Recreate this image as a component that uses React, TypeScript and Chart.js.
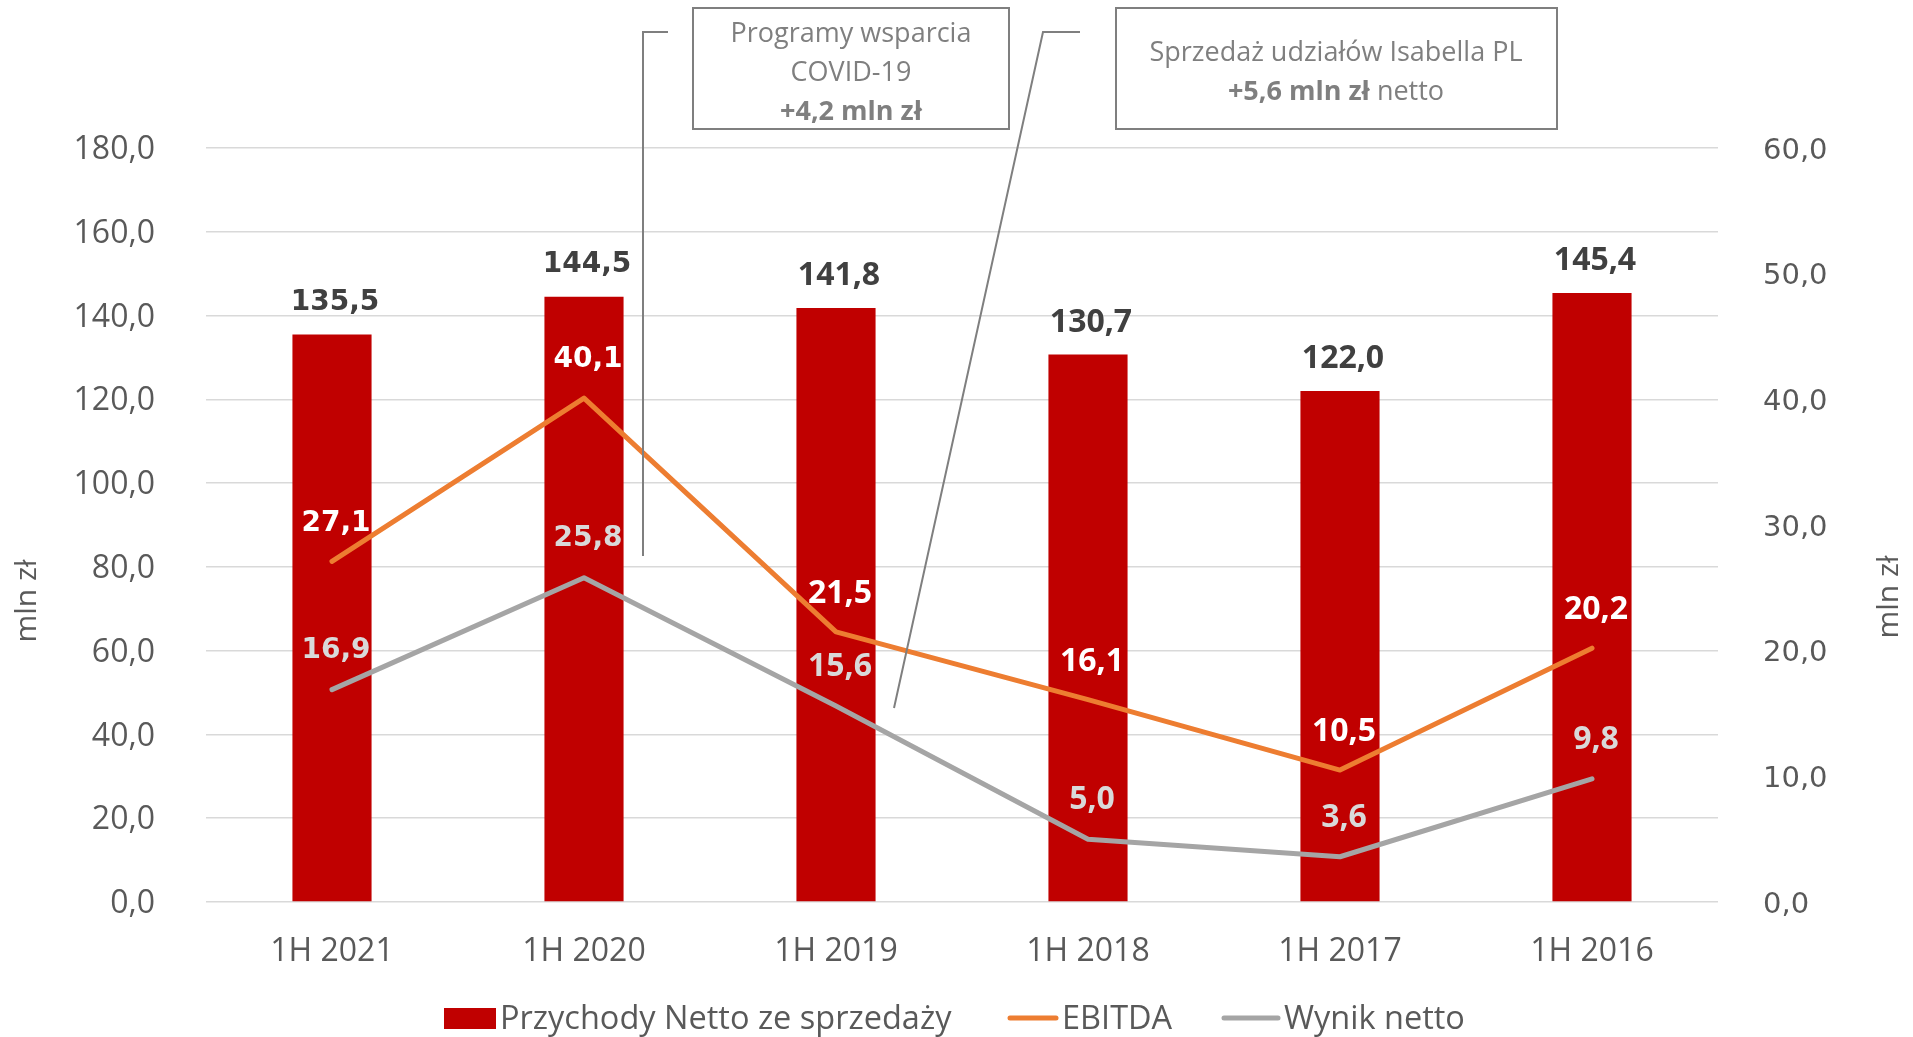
import React, { useEffect, useRef } from "react";
import { Chart, registerables } from "chart.js";

Chart.register(...registerables);

const categories = ["1H 2021", "1H 2020", "1H 2019", "1H 2018", "1H 2017", "1H 2016"];
const revenue = [135.5, 144.5, 141.8, 130.7, 122.0, 145.4];
const ebitda = [27.1, 40.1, 21.5, 16.1, 10.5, 20.2];
const netResult = [16.9, 25.8, 15.6, 5.0, 3.6, 9.8];
const leftAxisMax = 180;
const leftAxisStep = 20;
const rightAxisMax = 60;
const rightAxisStep = 10;
const seriesNames = ["Przychody Netto ze sprzedaży", "EBITDA", "Wynik netto"];
const axisTitle = "mln zł";

const RED = "#C00000";
const ORANGE = "#ED7D31";
const GRAY = "#A5A5A5";
const TEXT = "#595959";
const CALLOUT = "#7F7F7F";

const fmt = (v: number) => v.toFixed(1).replace(".", ",");

const labelFont = (i: number) =>
  i < 2 ? "bold 28px 'DejaVu Sans'" : "bold 32px 'Open Sans'";

const overlayPlugin = {
  id: "overlay",
  afterDatasetsDraw(chart: any) {
    const ctx = chart.ctx;
    ctx.save();
    ctx.textAlign = "center";
    ctx.textBaseline = "middle";
    const barMeta = chart.getDatasetMeta(0);
    barMeta.data.forEach((el: any, i: number) => {
      ctx.font = labelFont(i);
      ctx.fillStyle = "#404040";
      ctx.fillText(fmt(revenue[i]), el.x + 3, el.y - 32);
    });
    const ebMeta = chart.getDatasetMeta(1);
    ebMeta.data.forEach((el: any, i: number) => {
      ctx.font = labelFont(i);
      ctx.fillStyle = "#FFFFFF";
      ctx.fillText(fmt(ebitda[i]), el.x + 4, el.y - 38);
    });
    const nMeta = chart.getDatasetMeta(2);
    nMeta.data.forEach((el: any, i: number) => {
      ctx.font = labelFont(i);
      ctx.fillStyle = "#D9D9D9";
      ctx.fillText(fmt(netResult[i]), el.x + 4, el.y - 39);
    });
    ctx.restore();
  },
  afterDraw(chart: any) {
    const ctx = chart.ctx;
    ctx.save();
    ctx.fillStyle = TEXT;
    ctx.font = "30px 'Open Sans'";
    ctx.textAlign = "center";
    ctx.textBaseline = "middle";
    ctx.save();
    ctx.translate(27, 601);
    ctx.rotate(-Math.PI / 2);
    ctx.fillText(axisTitle, 0, 0);
    ctx.restore();
    ctx.save();
    ctx.translate(1889, 597);
    ctx.rotate(-Math.PI / 2);
    ctx.fillText(axisTitle, 0, 0);
    ctx.restore();

    ctx.strokeStyle = CALLOUT;
    ctx.lineWidth = 2;
    ctx.strokeRect(693, 8, 316, 121);
    ctx.strokeRect(1116, 8, 441, 121);
    ctx.beginPath();
    ctx.moveTo(668, 32);
    ctx.lineTo(643, 32);
    ctx.lineTo(643, 556);
    ctx.stroke();
    ctx.beginPath();
    ctx.moveTo(1080, 32);
    ctx.lineTo(1043, 32);
    ctx.lineTo(894, 708);
    ctx.stroke();

    ctx.fillStyle = CALLOUT;
    ctx.textAlign = "center";
    ctx.textBaseline = "middle";
    ctx.font = "27px 'Open Sans'";
    ctx.fillText("Programy wsparcia", 851, 34);
    ctx.fillText("COVID-19", 851, 73);
    ctx.font = "bold 27px 'Open Sans'";
    ctx.fillText("+4,2 mln zł", 851, 112);

    ctx.font = "27px 'Open Sans'";
    ctx.fillText("Sprzedaż udziałów Isabella PL", 1336, 53);
    ctx.font = "bold 27px 'Open Sans'";
    const boldPart = "+5,6 mln zł";
    const wb = ctx.measureText(boldPart).width;
    ctx.font = "27px 'Open Sans'";
    const normPart = " netto";
    const wn = ctx.measureText(normPart).width;
    const startX = 1336 - (wb + wn) / 2;
    ctx.textAlign = "left";
    ctx.font = "bold 27px 'Open Sans'";
    ctx.fillText(boldPart, startX, 92);
    ctx.font = "27px 'Open Sans'";
    ctx.fillText(normPart, startX + wb, 92);

    const ly = 1020;
    ctx.fillStyle = RED;
    ctx.fillRect(444, 1008, 52, 21);
    ctx.fillStyle = TEXT;
    ctx.font = "32.5px 'Open Sans'";
    ctx.textAlign = "left";
    ctx.textBaseline = "middle";
    ctx.fillText(seriesNames[0], 500, ly);
    ctx.lineCap = "round";
    ctx.lineWidth = 5;
    ctx.strokeStyle = ORANGE;
    ctx.beginPath();
    ctx.moveTo(1010, 1018);
    ctx.lineTo(1056, 1018);
    ctx.stroke();
    ctx.fillText(seriesNames[1], 1062, ly);
    ctx.strokeStyle = GRAY;
    ctx.beginPath();
    ctx.moveTo(1224, 1018);
    ctx.lineTo(1278, 1018);
    ctx.stroke();
    ctx.fillText(seriesNames[2], 1284, ly);
    ctx.restore();
  },
};

export default function App() {
  const ref = useRef<HTMLCanvasElement | null>(null);
  useEffect(() => {
    if (!ref.current) return;
    const chart = new Chart(ref.current, {
      type: "bar",
      data: {
        labels: categories,
        datasets: [
          {
            type: "bar",
            label: seriesNames[0],
            data: revenue,
            backgroundColor: RED,
            barPercentage: 0.314,
            categoryPercentage: 1,
            yAxisID: "y",
            order: 3,
          },
          {
            type: "line",
            label: seriesNames[1],
            data: ebitda,
            borderColor: ORANGE,
            backgroundColor: ORANGE,
            borderWidth: 5,
            pointRadius: 0,
            borderCapStyle: "round",
            borderJoinStyle: "round",
            yAxisID: "y1",
            order: 1,
          },
          {
            type: "line",
            label: seriesNames[2],
            data: netResult,
            borderColor: GRAY,
            backgroundColor: GRAY,
            borderWidth: 5,
            pointRadius: 0,
            borderCapStyle: "round",
            borderJoinStyle: "round",
            yAxisID: "y1",
            order: 2,
          },
        ],
      } as any,
      options: {
        responsive: false,
        animation: false,
        layout: { padding: { top: 148, left: 0, right: 0, bottom: 0 } },
        plugins: {
          legend: { display: false },
          tooltip: { enabled: false },
          title: { display: false },
        },
        scales: {
          x: {
            grid: { display: false, drawTicks: false },
            border: { display: false },
            ticks: {
              color: TEXT,
              font: { family: "'Open Sans'", size: 32 },
              padding: 31,
              maxRotation: 0,
            },
            afterFit: (s: any) => {
              s.height = 1037 - 902;
            },
          },
          y: {
            position: "left",
            min: 0,
            max: leftAxisMax,
            grid: { color: "#D9D9D9", lineWidth: 1.5, drawTicks: false },
            border: { display: false },
            ticks: {
              stepSize: leftAxisStep,
              color: TEXT,
              font: { family: "'Open Sans'", size: 32 },
              padding: 51,
              labelOffset: 2,
              callback: (v: any) => fmt(Number(v)),
            },
            afterFit: (s: any) => {
              s.width = 206;
            },
          },
          y1: {
            position: "right",
            min: 0,
            max: rightAxisMax,
            grid: { display: false, drawTicks: false },
            border: { display: false },
            ticks: {
              stepSize: rightAxisStep,
              color: TEXT,
              font: { family: "'DejaVu Sans'", size: 29 },
              padding: 45,
              labelOffset: 3,
              callback: (v: any) => fmt(Number(v)),
            },
            afterFit: (s: any) => {
              s.width = 1913 - 1718;
            },
          },
        },
      } as any,
      plugins: [overlayPlugin],
    });
    return () => chart.destroy();
  }, []);
  return (
    <div style={{ position: "fixed", left: 0, top: 0, width: 1913, height: 1037, background: "#fff" }}>
      <canvas ref={ref} width={1913} height={1037} style={{ display: "block" }} />
    </div>
  );
}
